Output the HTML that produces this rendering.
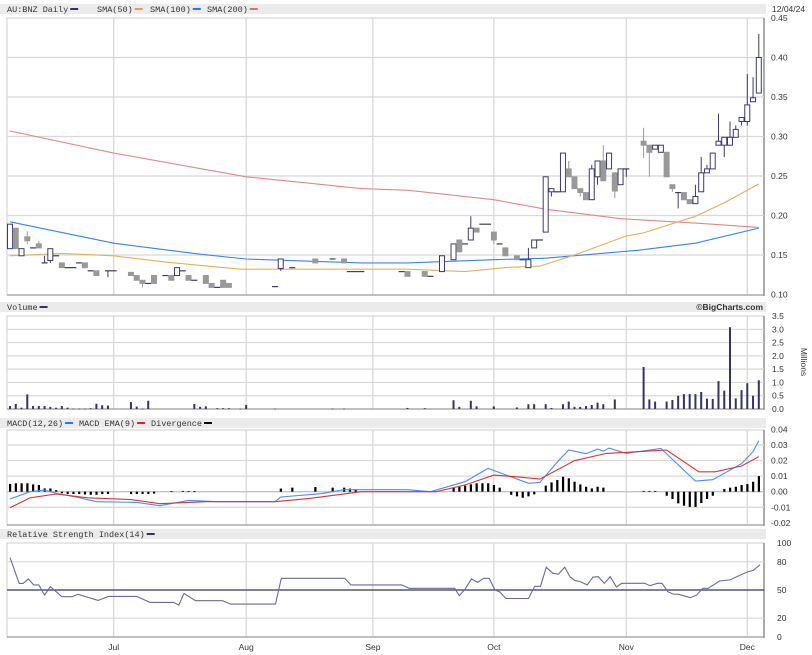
<!DOCTYPE html>
<html><head><meta charset="utf-8"><title>AU:BNZ Daily chart</title>
<style>
body{margin:0;background:#fff;}
svg{display:block;font-family:"Liberation Sans",sans-serif;}
.lbl{font-size:8.5px;fill:#333;}
.hdr{font-size:8.5px;fill:#333;font-family:"Liberation Mono",monospace;}
</style></head>
<body>
<svg id="chart" width="812" height="655" viewBox="0 0 812 655" xmlns="http://www.w3.org/2000/svg"></svg>
<script>
// ---------- data ----------
// candles: [dayIndex, open, high, low, close]
const candles = [
[0,.158,.189,.158,.189],[1,.184,.184,.158,.158],[2,.149,.158,.149,.158],[3,.173,.180,.164,.168],
[4,.159,.159,.159,.159],[5,.164,.168,.159,.159],[6,.140,.149,.140,.140],[7,.143,.158,.140,.158],
[8,.149,.149,.149,.149],[9,.140,.140,.134,.134],[10,.134,.134,.134,.134],[11,.134,.134,.134,.134],
[12,.140,.140,.140,.140],[13,.140,.140,.134,.134],[14,.130,.130,.130,.130],[15,.130,.130,.124,.124],
[17,.130,.130,.122,.130],[18,.130,.130,.130,.130],[21,.128,.128,.124,.124],[22,.124,.124,.118,.118],
[23,.118,.118,.109,.114],[24,.114,.114,.114,.114],[25,.124,.124,.114,.114],[27,.124,.124,.124,.124],
[28,.124,.124,.118,.118],[29,.124,.134,.124,.134],[30,.130,.130,.130,.130],[31,.124,.124,.118,.118],
[32,.118,.118,.118,.118],[34,.124,.124,.114,.114],[35,.114,.114,.109,.109],[36,.109,.109,.109,.109],
[37,.118,.118,.109,.109],[38,.114,.114,.109,.109],[46,.110,.110,.110,.110],[47,.133,.145,.130,.145],
[49,.134,.134,.134,.134],[53,.145,.145,.140,.140],[56,.145,.145,.145,.145],[58,.145,.145,.140,.140],
[59,.129,.129,.129,.129],[60,.129,.129,.129,.129],[61,.129,.129,.129,.129],[68,.129,.129,.129,.129],
[69,.129,.129,.123,.123],[72,.129,.129,.123,.123],[73,.123,.123,.123,.123],[75,.129,.149,.129,.149],
[77,.144,.164,.144,.164],[78,.169,.169,.154,.154],[79,.164,.164,.164,.164],[80,.169,.199,.169,.184],
[81,.184,.184,.179,.179],[82,.189,.189,.189,.189],[83,.189,.189,.189,.189],[84,.179,.179,.164,.169],
[85,.164,.164,.164,.164],[86,.159,.159,.149,.149],[88,.149,.149,.144,.144],[89,.144,.144,.144,.144],
[90,.134,.159,.134,.144],[91,.159,.169,.159,.169],[92,.169,.169,.169,.169],[93,.179,.249,.179,.249],
[94,.230,.234,.224,.234],[95,.230,.230,.230,.230],[96,.230,.279,.230,.279],[97,.259,.269,.249,.249],
[98,.249,.249,.234,.234],[99,.234,.234,.224,.229],[100,.229,.229,.220,.220],[101,.220,.264,.220,.259],
[102,.249,.269,.239,.269],[103,.269,.289,.244,.244],[104,.259,.279,.259,.279],[105,.254,.254,.222,.231],
[106,.239,.259,.239,.259],[107,.259,.259,.249,.259],[110,.294,.311,.273,.289],[111,.289,.289,.249,.280],
[112,.284,.289,.284,.289],[113,.280,.289,.280,.289],[114,.280,.280,.249,.249],[115,.239,.239,.230,.234],
[116,.229,.229,.209,.229],[117,.229,.229,.220,.220],[118,.220,.220,.215,.215],[119,.215,.239,.215,.224],
[120,.230,.274,.230,.254],[121,.254,.264,.254,.259],[122,.259,.279,.259,.279],[123,.289,.329,.289,.294],
[124,.289,.299,.274,.299],[125,.289,.319,.289,.299],[126,.299,.314,.299,.309],[127,.319,.324,.314,.324],
[128,.319,.379,.314,.340],[129,.344,.375,.344,.349],[130,.355,.430,.355,.400]
];
const sma50Days  = [0,9,18,27,40,69,79,86,92,98,107,110,119,124,130];
const sma50Vals  = [.149,.152,.149,.141,.132,.132,.129,.134,.136,.150,.174,.178,.199,.216,.240];
const sma100Days = [0,18,33,41,61,69,84,93,109,119,130];
const sma100Vals = [.192,.165,.151,.145,.140,.140,.144,.146,.156,.165,.184];
const sma200Days = [0,18,41,61,69,84,93,106,120,130];
const sma200Vals = [.307,.279,.249,.234,.232,.220,.208,.196,.190,.185];

const volDays = [0,1,2,3,4,5,6,7,8,9,10,11,12,13,14,15,16,17,21,22,23,24,32,33,34,36,37,38,40,41,46,56,58,69,72,77,78,80,81,84,88,90,91,93,94,96,97,98,99,100,101,102,103,105,110,111,112,114,115,116,117,118,119,120,121,122,123,124,125,126,127,128,129,130];
const volVals = [.11,.19,.05,.55,.11,.11,.11,.08,.05,.11,.05,.01,.01,.01,.03,.2,.14,.13,.26,.09,.01,.31,.19,.08,.1,.03,.03,.03,.01,.15,.01,.01,.01,.04,.03,.33,.08,.31,.1,.1,.06,.18,.18,.18,.04,.18,.28,.08,.08,.11,.15,.24,.18,.36,1.58,.36,.28,.28,.34,.5,.56,.56,.56,.64,.39,.38,1.05,.69,3.08,.4,.71,.97,.5,1.08];

const macdDays = [0,3.5,6,8,11,15,22,26,31,36,46,47,54,58,61,69,73,79,83,87,90,92,95,97,100,102,103,104,107,113,119,122,127,129,130];
const macdVals = [-.0047,0,.001,-.001,-.003,-.0064,-.0069,-.009,-.0056,-.0064,-.0064,-.0034,-.0013,.0013,.0013,.0013,0,.0064,.015,.0096,.0054,.006,.019,.0268,.0244,.0274,.026,.028,.0246,.0278,.0069,.0077,.018,.0257,.0328];
const sigDays = [0,3.5,8,13.5,21,26,34,46,52,61,74,79,84,88,92,98,103.5,109,114,119.6,122.4,127,130];
const sigVals = [-.0103,-.0039,-.0015,-.0039,-.0051,-.0077,-.0064,-.0064,-.0043,0,0,.0043,.0107,.0096,.0081,.0199,.0246,.0257,.0268,.0128,.0128,.0165,.0225];
const divDays = [0,1,2,3,4,5,6,7,8,9,10,11,12,13,14,15,16,17,21,22,23,24,25,28,30,31,32,47,49,53,56,58,59,60,77,78,79,80,81,82,83,84,85,87,88,89,90,91,93,94,95,96,97,98,99,100,101,102,103,110,111,112,114,115,116,117,118,119,120,121,122,124,125,126,127,128,129,130];
const divVals = [.005,.0054,.0054,.0054,.0047,.0043,.0021,.0021,.001,-.001,-.0015,-.0015,-.0015,-.0018,-.002,-.002,-.0015,-.0015,-.0015,-.0015,-.0015,-.0015,-.0012,.0003,.0005,.0003,.0003,.002,.0026,.003,.0026,.0026,.002,.0015,.0026,.0032,.0039,.0047,.0054,.0054,.0054,.0043,.0026,-.002,-.003,-.0039,-.003,-.0017,.0039,.006,.0075,.0096,.0086,.0064,.0047,.0032,.0021,.0032,.0026,.0005,.0005,.0005,-.0026,-.0047,-.0075,-.009,-.0098,-.0098,-.0073,-.0047,-.0026,.0017,.0026,.0032,.0043,.0049,.0064,.01];

const rsiDays = [0,1.6,2.3,3.2,4.1,5,6,7,9,10.8,11.8,15.3,17.1,22,24.3,28.4,29.3,30.2,32.2,36.9,38.3,46.1,47.1,58.1,59.2,68,69.3,77.2,78,79,80.1,81.2,82.2,83.2,84.2,85,86.1,90,91.1,92.1,93.1,94.2,95.2,96.3,97.2,98.1,99,100.2,101.2,102.1,103.2,104.2,105.3,106.2,110.2,111.1,112.4,113.2,114.2,115.1,116.1,118.1,119.2,120.3,121.2,123.2,125,127.1,128.2,129,130.2];
const rsiVals = [84.6,57,57,61.8,55.4,55.4,44.6,53.6,42.9,42.9,45.4,38.9,43.2,43.2,36.8,36.8,33.9,46.4,38.6,38.6,35,35,62.5,62.5,55.4,55.4,51.8,51.8,43.9,50.7,61.8,58.2,62.5,62.5,50,48.2,41,41,53.9,53.9,74.3,67.9,66.8,74.3,64.3,60,58.9,55.4,63.6,64.3,57.1,64.3,53.2,57.1,57.1,54.6,57.1,57.1,48.2,45.7,45.4,41.8,44.6,51.8,51.8,59.6,60.7,66.8,69.6,70.7,76.8];

const priceTicks = [0.45,0.40,0.35,0.30,0.25,0.20,0.15,0.10];
const volTicks = [3.5,3.0,2.5,2.0,1.5,1.0,0.5,0.0];
const macdTicks = [0.04,0.03,0.02,0.01,0.00,-0.01,-0.02];
const rsiTicks = [100,80,50,20,0];
const monthLabels = ["Jul","Aug","Sep","Oct","Nov","Dec"];
const monthDays = [18,41,63,84,107,128];

// ---------- axes ----------
const L=7, R=764;
const xOf = i => 10 + i*5.76;
const yPrice = p => 18 + (0.45-p)*790;
const yVol = v => 409 - v*26.57;
const yMacd = v => 491.7 - v*1556;
const yRsi = v => 637 - v*0.94;

const svg = document.getElementById('chart');
const NS = 'http://www.w3.org/2000/svg';
function mk(tag, attrs, parent){
  const e = document.createElementNS(NS, tag);
  for (const k in attrs) e.setAttribute(k, attrs[k]);
  (parent||svg).appendChild(e);
  return e;
}
function txt(x,y,s,cls,anchor){
  const t = mk('text',{x:x,y:y,'class':cls});
  if(anchor) t.setAttribute('text-anchor',anchor);
  t.textContent = s;
  return t;
}
function panel(name, top, bottom){
  const g = mk('g',{});
  
  
  mk('rect',{x:L,y:top,width:R-L,height:bottom-top,fill:'#fff',stroke:'#ccc','stroke-width':1},g);
  monthDays.forEach(d=>{
    mk('line',{x1:xOf(d),x2:xOf(d),y1:top,y2:bottom,stroke:'#d8d8d8','stroke-width':1.3},g);
  });
  mk('line',{x1:R,x2:R,y1:top,y2:bottom+1,stroke:'#aaa','stroke-width':2},g);
  mk('line',{x1:L,x2:R,y1:bottom,y2:bottom,stroke:'#999','stroke-width':1.3},g);
  return g;
}
// items: [label, swatchColor, xPosition]
function header(name, y, items){
  const g = mk('g',{});
  
  
  mk('rect',{x:0,y:y,width:766,height:10,fill:'#ebebeb'},g);
  items.forEach(it=>{
    const x = it[2];
    const t = mk('text',{x:x,y:y+8,'class':'hdr'},g);
    t.textContent = it[0];
    const w = it[0].length*5.1;
    mk('rect',{x:x+w+2,y:y+4,width:8,height:2,fill:it[1]},g);
  });
  return g;
}
function polyline(days, vals, yf, color, name, width){
  const pts = days.map((d,k)=>xOf(d).toFixed(1)+','+yf(vals[k]).toFixed(1)).join(' ');
  const p = mk('polyline',{points:pts,fill:'none',stroke:color,'stroke-width':width||1.1});
  
  
  return p;
}

// ---------- price panel ----------
header('price-legend', 4, [['AU:BNZ Daily','#333366',7],['SMA(50)','#e0a040',97],['SMA(100)','#2277ff',150],['SMA(200)','#e07070',207]]);
const dateLbl = txt(772,12,'12/04/24','lbl');


const pp = panel('price-panel', 18, 295);
priceTicks.forEach(p=>{
  const y = yPrice(p);
  if (p<0.45 && p>0.10) mk('line',{x1:L,x2:R,y1:y,y2:y,stroke:'#d8d8d8','stroke-width':1.3},pp);
  const t = txt(771,y+3,p.toFixed(2),'lbl');
  
  
});
polyline(sma200Days, sma200Vals, yPrice, '#e08888', 'sma200-line');
polyline(sma100Days, sma100Vals, yPrice, '#3a80ff', 'sma100-line');
polyline(sma50Days, sma50Vals, yPrice, '#e0b060', 'sma50-line');
candles.forEach(c=>{
  const [d,o,h,l,cl] = c;
  const x = xOf(d);
  const up = cl>o, flat = cl===o;
  const col = up||flat ? '#3a3a6e' : '#999';
  const g = mk('g',{});
  
  
  mk('line',{x1:x,x2:x,y1:yPrice(h),y2:yPrice(l),stroke:col,'stroke-width':1},g);
  if (flat){
    mk('line',{x1:x-3,x2:x+3,y1:yPrice(o),y2:yPrice(o),stroke:col,'stroke-width':1.2},g);
  } else {
    const top = yPrice(Math.max(o,cl)), bot = yPrice(Math.min(o,cl));
    mk('rect',{x:x-2.5,y:top,width:5,height:Math.max(bot-top,1.5),fill:up?'#fff':'#999',stroke:up?col:'#999','stroke-width':1},g);
  }
});

// ---------- volume panel ----------
header('volume-legend', 302, [['Volume','#333366',7]]);
const cp = txt(763,310,'©BigCharts.com','lbl','end');
cp.setAttribute('font-weight','bold');
cp.setAttribute('fill','#445');


const vp = panel('volume-panel', 316, 409);
volTicks.forEach(v=>{
  const y = yVol(v);
  if (v>0 && v<3.5) mk('line',{x1:L,x2:R,y1:y,y2:y,stroke:'#d8d8d8','stroke-width':1.2},vp);
  const t = txt(772,y+3,v.toFixed(1),'lbl');
  
  
});
const mil = mk('text',{x:0,y:0,'class':'lbl',transform:'translate(801,362) rotate(90)','text-anchor':'middle'});
mil.textContent='Millions';


volDays.forEach((d,k)=>{
  const y = yVol(volVals[k]);
  const b = mk('rect',{x:xOf(d)-1,y:y,width:2,height:Math.max(409-y,0.6),fill:'#333366'});
  
  
});

// ---------- MACD panel ----------
header('macd-legend', 418, [['MACD(12,26)','#2277ff',7],['MACD EMA(9)','#dd2222',79],['Divergence','#000',151]]);
const mp = panel('macd-panel', 430, 525);
macdTicks.forEach(v=>{
  const y = yMacd(v);
  if (v<0.04 && v>-0.02) mk('line',{x1:L,x2:R,y1:y,y2:y,stroke:'#d8d8d8','stroke-width':1.2},mp);
  const t = txt(771,y+3,v.toFixed(2),'lbl');
  
  
});
mk('line',{x1:L,x2:R,y1:yMacd(0),y2:yMacd(0),stroke:'#bbb','stroke-width':1},mp);
divDays.forEach((d,k)=>{
  const y0 = yMacd(0), y1 = yMacd(divVals[k]);
  const b = mk('rect',{x:xOf(d)-1,y:Math.min(y0,y1),width:2.2,height:Math.max(Math.abs(y1-y0),0.8),fill:'#000'});
  
  
});
polyline(macdDays, macdVals, yMacd, '#4a8cff', 'macd-line');
polyline(sigDays, sigVals, yMacd, '#dd3333', 'macd-signal-line');

// ---------- RSI panel ----------
header('rsi-legend', 529, [['Relative Strength Index(14)','#333366',7]]);
const rp = panel('rsi-panel', 543, 637);
rsiTicks.forEach(v=>{
  const y = yRsi(v);
  if (v===80||v===20) mk('line',{x1:L,x2:R,y1:y,y2:y,stroke:'#d8d8d8','stroke-width':1.2},rp);
  const t = txt(777,y+3,String(v),'lbl');
  
  
});
mk('line',{x1:L,x2:R,y1:yRsi(50),y2:yRsi(50),stroke:'#333366','stroke-width':1.3},rp);
polyline(rsiDays, rsiVals, yRsi, '#6a6a9a', 'rsi-line', 1.1);
monthLabels.forEach((m,k)=>{
  const t = txt(xOf(monthDays[k]),650,m,'lbl','middle');
  
  
});
</script>
</body></html>
